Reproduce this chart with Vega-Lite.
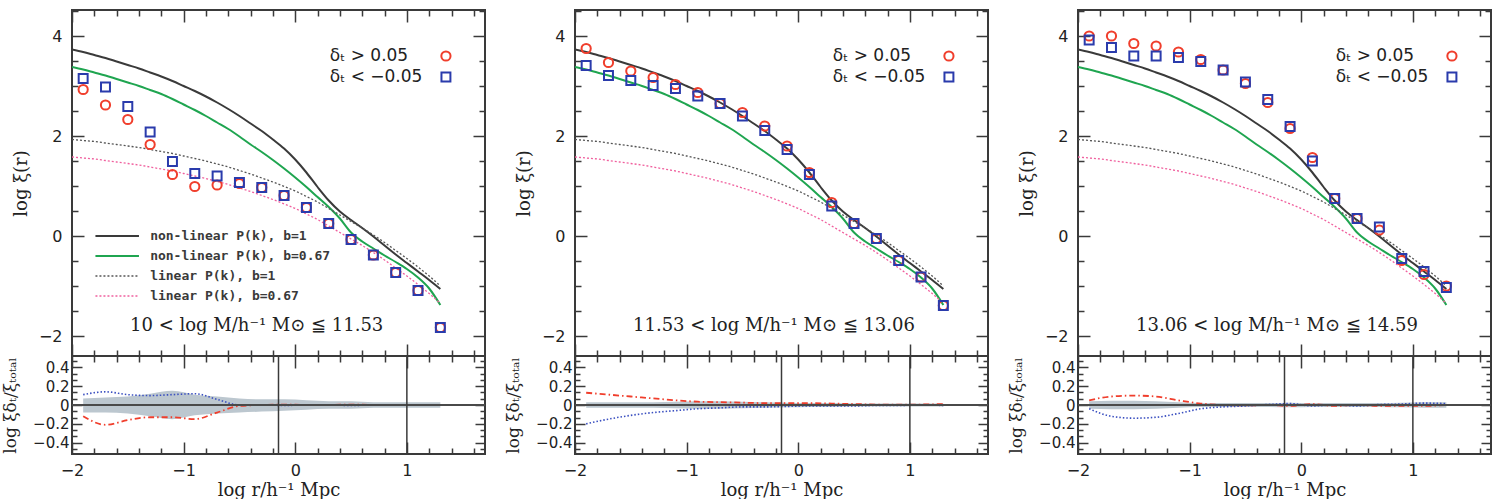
{
  "$schema": "https://vega.github.io/schema/vega-lite/v6.json",
  "padding": {"left": 0, "top": 8, "right": 0, "bottom": 0},
  "background": "white",
  "spacing": 16,
  "config": {
    "view": {"stroke": "#3a3a3a", "strokeWidth": 2},
    "point": {"opacity": 1},
    "axis": {"domain": false, "grid": false, "tickColor": "#3a3a3a", "tickWidth": 1.5, "labelFont": "DejaVu Sans", "labelFontSize": 16, "labelColor": "#222", "titleFont": "DejaVu Serif", "titleColor": "#222", "titleFontWeight": "normal", "labelFlush": false, "labelOverlap": false}
  },
  "datasets": {
    "one": [{}],
    "vlines": [{"x": -0.15}, {"x": 1.0}],
    "curves": [
      {"x": -2.0, "nl1": 3.73, "nl067": 3.38, "lin1": 1.93, "lin067": 1.58},
      {"x": -1.9, "nl1": 3.68, "nl067": 3.33, "lin1": 1.91, "lin067": 1.56},
      {"x": -1.8, "nl1": 3.62, "nl067": 3.27, "lin1": 1.89, "lin067": 1.54},
      {"x": -1.7, "nl1": 3.56, "nl067": 3.21, "lin1": 1.86, "lin067": 1.51},
      {"x": -1.6, "nl1": 3.49, "nl067": 3.14, "lin1": 1.83, "lin067": 1.48},
      {"x": -1.5, "nl1": 3.42, "nl067": 3.07, "lin1": 1.80, "lin067": 1.45},
      {"x": -1.4, "nl1": 3.35, "nl067": 3.00, "lin1": 1.77, "lin067": 1.42},
      {"x": -1.3, "nl1": 3.27, "nl067": 2.92, "lin1": 1.73, "lin067": 1.38},
      {"x": -1.2, "nl1": 3.19, "nl067": 2.84, "lin1": 1.69, "lin067": 1.34},
      {"x": -1.1, "nl1": 3.10, "nl067": 2.74, "lin1": 1.65, "lin067": 1.30},
      {"x": -1.0, "nl1": 3.00, "nl067": 2.63, "lin1": 1.60, "lin067": 1.25},
      {"x": -0.9, "nl1": 2.90, "nl067": 2.52, "lin1": 1.55, "lin067": 1.20},
      {"x": -0.8, "nl1": 2.79, "nl067": 2.40, "lin1": 1.50, "lin067": 1.15},
      {"x": -0.7, "nl1": 2.67, "nl067": 2.27, "lin1": 1.44, "lin067": 1.09},
      {"x": -0.6, "nl1": 2.54, "nl067": 2.14, "lin1": 1.38, "lin067": 1.03},
      {"x": -0.5, "nl1": 2.40, "nl067": 1.99, "lin1": 1.31, "lin067": 0.96},
      {"x": -0.4, "nl1": 2.25, "nl067": 1.83, "lin1": 1.24, "lin067": 0.89},
      {"x": -0.3, "nl1": 2.10, "nl067": 1.68, "lin1": 1.16, "lin067": 0.81},
      {"x": -0.2, "nl1": 1.93, "nl067": 1.52, "lin1": 1.08, "lin067": 0.73},
      {"x": -0.1, "nl1": 1.75, "nl067": 1.35, "lin1": 0.99, "lin067": 0.64},
      {"x": 0.0, "nl1": 1.53, "nl067": 1.17, "lin1": 0.90, "lin067": 0.55},
      {"x": 0.1, "nl1": 1.27, "nl067": 0.98, "lin1": 0.79, "lin067": 0.44},
      {"x": 0.2, "nl1": 0.98, "nl067": 0.78, "lin1": 0.68, "lin067": 0.33},
      {"x": 0.3, "nl1": 0.71, "nl067": 0.58, "lin1": 0.55, "lin067": 0.20},
      {"x": 0.4, "nl1": 0.49, "nl067": 0.35, "lin1": 0.42, "lin067": 0.07},
      {"x": 0.5, "nl1": 0.32, "nl067": 0.07, "lin1": 0.29, "lin067": -0.06},
      {"x": 0.6, "nl1": 0.16, "nl067": -0.11, "lin1": 0.16, "lin067": -0.19},
      {"x": 0.7, "nl1": -0.01, "nl067": -0.25, "lin1": 0.02, "lin067": -0.33},
      {"x": 0.8, "nl1": -0.19, "nl067": -0.39, "lin1": -0.13, "lin067": -0.48},
      {"x": 0.9, "nl1": -0.37, "nl067": -0.52, "lin1": -0.29, "lin067": -0.64},
      {"x": 1.0, "nl1": -0.54, "nl067": -0.66, "lin1": -0.45, "lin067": -0.80},
      {"x": 1.1, "nl1": -0.71, "nl067": -0.83, "lin1": -0.62, "lin067": -0.97},
      {"x": 1.2, "nl1": -0.88, "nl067": -1.05, "lin1": -0.80, "lin067": -1.15},
      {"x": 1.3, "nl1": -1.06, "nl067": -1.38, "lin1": -1.00, "lin067": -1.35}
    ],
    "pts1": [
      {"x": -1.9, "hi": 2.93, "lo": 3.15}, {"x": -1.7, "hi": 2.62, "lo": 2.98},
      {"x": -1.5, "hi": 2.33, "lo": 2.59}, {"x": -1.3, "hi": 1.83, "lo": 2.08},
      {"x": -1.1, "hi": 1.23, "lo": 1.49}, {"x": -0.9, "hi": 0.99, "lo": 1.25},
      {"x": -0.7, "hi": 1.02, "lo": 1.20}, {"x": -0.5, "hi": 1.05, "lo": 1.07},
      {"x": -0.3, "hi": 0.97, "lo": 0.97}, {"x": -0.1, "hi": 0.81, "lo": 0.81},
      {"x": 0.1, "hi": 0.57, "lo": 0.57}, {"x": 0.3, "hi": 0.25, "lo": 0.25},
      {"x": 0.5, "hi": -0.07, "lo": -0.07}, {"x": 0.7, "hi": -0.38, "lo": -0.38},
      {"x": 0.9, "hi": -0.73, "lo": -0.73}, {"x": 1.1, "hi": -1.09, "lo": -1.09},
      {"x": 1.3, "hi": -1.83, "lo": -1.83}
    ],
    "pts2": [
      {"x": -1.9, "hi": 3.75, "lo": 3.41}, {"x": -1.7, "hi": 3.47, "lo": 3.21},
      {"x": -1.5, "hi": 3.30, "lo": 3.11}, {"x": -1.3, "hi": 3.17, "lo": 3.01},
      {"x": -1.1, "hi": 3.03, "lo": 2.95}, {"x": -0.9, "hi": 2.87, "lo": 2.80},
      {"x": -0.7, "hi": 2.65, "lo": 2.65}, {"x": -0.5, "hi": 2.47, "lo": 2.40},
      {"x": -0.3, "hi": 2.20, "lo": 2.11}, {"x": -0.1, "hi": 1.80, "lo": 1.73},
      {"x": 0.1, "hi": 1.27, "lo": 1.23}, {"x": 0.3, "hi": 0.67, "lo": 0.60},
      {"x": 0.5, "hi": 0.25, "lo": 0.25}, {"x": 0.7, "hi": -0.05, "lo": -0.05},
      {"x": 0.9, "hi": -0.49, "lo": -0.49}, {"x": 1.1, "hi": -0.82, "lo": -0.82},
      {"x": 1.3, "hi": -1.39, "lo": -1.39}
    ],
    "pts3": [
      {"x": -1.9, "hi": 4.00, "lo": 3.92}, {"x": -1.7, "hi": 4.00, "lo": 3.77},
      {"x": -1.5, "hi": 3.85, "lo": 3.60}, {"x": -1.3, "hi": 3.80, "lo": 3.60},
      {"x": -1.1, "hi": 3.68, "lo": 3.57}, {"x": -0.9, "hi": 3.53, "lo": 3.49},
      {"x": -0.7, "hi": 3.32, "lo": 3.32}, {"x": -0.5, "hi": 3.05, "lo": 3.08},
      {"x": -0.3, "hi": 2.67, "lo": 2.73}, {"x": -0.1, "hi": 2.15, "lo": 2.19},
      {"x": 0.1, "hi": 1.57, "lo": 1.50}, {"x": 0.3, "hi": 0.75, "lo": 0.75},
      {"x": 0.5, "hi": 0.35, "lo": 0.35}, {"x": 0.7, "hi": 0.12, "lo": 0.18},
      {"x": 0.9, "hi": -0.49, "lo": -0.45}, {"x": 1.1, "hi": -0.77, "lo": -0.71},
      {"x": 1.3, "hi": -1.00, "lo": -1.03}
    ],
    "res1": [
      {"x": -1.9, "hi": -0.12, "lo": 0.11, "blo": -0.08, "bhi": 0.07},
      {"x": -1.7, "hi": -0.21, "lo": 0.14, "blo": -0.08, "bhi": 0.08},
      {"x": -1.5, "hi": -0.16, "lo": 0.11, "blo": -0.09, "bhi": 0.09},
      {"x": -1.3, "hi": -0.13, "lo": 0.10, "blo": -0.12, "bhi": 0.12},
      {"x": -1.1, "hi": -0.13, "lo": 0.11, "blo": -0.15, "bhi": 0.15},
      {"x": -0.9, "hi": -0.15, "lo": 0.12, "blo": -0.11, "bhi": 0.11},
      {"x": -0.7, "hi": -0.08, "lo": 0.06, "blo": -0.09, "bhi": 0.09},
      {"x": -0.5, "hi": -0.01, "lo": 0.0, "blo": -0.08, "bhi": 0.07},
      {"x": -0.3, "hi": 0.0, "lo": 0.0, "blo": -0.07, "bhi": 0.06},
      {"x": -0.1, "hi": 0.005, "lo": -0.005, "blo": -0.06, "bhi": 0.06},
      {"x": 0.1, "hi": 0.0, "lo": 0.0, "blo": -0.05, "bhi": 0.05},
      {"x": 0.3, "hi": 0.0, "lo": 0.0, "blo": -0.04, "bhi": 0.04},
      {"x": 0.5, "hi": 0.005, "lo": -0.005, "blo": -0.04, "bhi": 0.04},
      {"x": 0.7, "hi": 0.0, "lo": 0.0, "blo": -0.03, "bhi": 0.03},
      {"x": 0.9, "hi": 0.0, "lo": 0.0, "blo": -0.03, "bhi": 0.03},
      {"x": 1.1, "hi": 0.0, "lo": 0.0, "blo": -0.03, "bhi": 0.03},
      {"x": 1.3, "hi": 0.0, "lo": 0.0, "blo": -0.03, "bhi": 0.03}
    ],
    "res2": [
      {"x": -1.9, "hi": 0.13, "lo": -0.20, "blo": -0.03, "bhi": 0.03},
      {"x": -1.7, "hi": 0.11, "lo": -0.15, "blo": -0.03, "bhi": 0.03},
      {"x": -1.5, "hi": 0.09, "lo": -0.11, "blo": -0.03, "bhi": 0.03},
      {"x": -1.3, "hi": 0.07, "lo": -0.08, "blo": -0.03, "bhi": 0.03},
      {"x": -1.1, "hi": 0.05, "lo": -0.06, "blo": -0.035, "bhi": 0.035},
      {"x": -0.9, "hi": 0.035, "lo": -0.04, "blo": -0.04, "bhi": 0.04},
      {"x": -0.7, "hi": 0.03, "lo": -0.03, "blo": -0.04, "bhi": 0.04},
      {"x": -0.5, "hi": 0.025, "lo": -0.02, "blo": -0.035, "bhi": 0.035},
      {"x": -0.3, "hi": 0.02, "lo": -0.02, "blo": -0.03, "bhi": 0.03},
      {"x": -0.1, "hi": 0.02, "lo": -0.015, "blo": -0.025, "bhi": 0.025},
      {"x": 0.1, "hi": 0.02, "lo": -0.01, "blo": -0.02, "bhi": 0.02},
      {"x": 0.3, "hi": 0.015, "lo": -0.01, "blo": -0.02, "bhi": 0.02},
      {"x": 0.5, "hi": 0.01, "lo": -0.01, "blo": -0.015, "bhi": 0.015},
      {"x": 0.7, "hi": 0.005, "lo": -0.005, "blo": -0.015, "bhi": 0.015},
      {"x": 0.9, "hi": 0.005, "lo": -0.005, "blo": -0.015, "bhi": 0.015},
      {"x": 1.1, "hi": 0.005, "lo": 0.0, "blo": -0.015, "bhi": 0.015},
      {"x": 1.3, "hi": 0.01, "lo": -0.005, "blo": -0.015, "bhi": 0.015}
    ],
    "res3": [
      {"x": -1.9, "hi": 0.05, "lo": -0.04, "blo": -0.04, "bhi": 0.04},
      {"x": -1.7, "hi": 0.09, "lo": -0.12, "blo": -0.045, "bhi": 0.045},
      {"x": -1.5, "hi": 0.10, "lo": -0.14, "blo": -0.045, "bhi": 0.045},
      {"x": -1.3, "hi": 0.09, "lo": -0.13, "blo": -0.04, "bhi": 0.04},
      {"x": -1.1, "hi": 0.05, "lo": -0.09, "blo": -0.03, "bhi": 0.03},
      {"x": -0.9, "hi": 0.015, "lo": -0.04, "blo": -0.02, "bhi": 0.02},
      {"x": -0.7, "hi": 0.0, "lo": -0.02, "blo": -0.02, "bhi": 0.02},
      {"x": -0.5, "hi": -0.005, "lo": -0.01, "blo": -0.02, "bhi": 0.02},
      {"x": -0.3, "hi": 0.0, "lo": 0.005, "blo": -0.02, "bhi": 0.02},
      {"x": -0.1, "hi": -0.01, "lo": 0.015, "blo": -0.025, "bhi": 0.025},
      {"x": 0.1, "hi": 0.01, "lo": -0.01, "blo": -0.02, "bhi": 0.02},
      {"x": 0.3, "hi": -0.01, "lo": 0.0, "blo": -0.02, "bhi": 0.02},
      {"x": 0.5, "hi": 0.0, "lo": -0.01, "blo": -0.02, "bhi": 0.02},
      {"x": 0.7, "hi": -0.01, "lo": 0.005, "blo": -0.02, "bhi": 0.02},
      {"x": 0.9, "hi": -0.01, "lo": 0.01, "blo": -0.025, "bhi": 0.025},
      {"x": 1.1, "hi": -0.01, "lo": 0.02, "blo": -0.03, "bhi": 0.03},
      {"x": 1.3, "hi": 0.0, "lo": 0.015, "blo": -0.03, "bhi": 0.03}
    ]
  },
  "hconcat": [
    {
      "vconcat": [
        {
          "width": 413, "height": 346,
          "resolve": {"axis": {"x": "independent", "y": "independent"}},
          "layer": [
            {
              "data": {"name": "curves"},
              "transform": [{"fold": ["nl1", "nl067"], "as": ["m", "y"]}],
              "mark": {"type": "line", "strokeWidth": 2, "interpolate": "monotone", "clip": true},
              "encoding": {
                "x": {"field": "x", "type": "quantitative", "scale": {"domain": [-2, 1.7]}, "axis": {"orient": "bottom", "values": [-2, -1, 0, 1], "labels": false, "tickSize": -12, "title": null}},
                "y": {"field": "y", "type": "quantitative", "scale": {"domain": [-2.4, 4.52]}, "axis": {"orient": "left", "values": [-2, 0, 2, 4], "tickSize": -12, "labelPadding": 22, "format": "~g", "title": "log ξ(r)", "titleX": -42, "titleFontSize": 18}},
                "color": {"field": "m", "type": "nominal", "scale": {"domain": ["nl1", "nl067", "lin1", "lin067"], "range": ["#3a3a3a", "#1fa550", "#555555", "#f0609e"]}, "legend": null}
              }
            },
            {
              "data": {"name": "curves"},
              "transform": [{"fold": ["lin1", "lin067"], "as": ["m", "y"]}],
              "mark": {"type": "line", "strokeWidth": 1.3, "strokeDash": [2, 2], "interpolate": "monotone", "clip": true},
              "encoding": {
                "x": {"field": "x", "type": "quantitative", "scale": {"domain": [-2, 1.7]}, "axis": {"orient": "top", "values": [-2, -1, 0, 1], "labels": false, "tickSize": -12, "title": null}},
                "y": {"field": "y", "type": "quantitative", "scale": {"domain": [-2.4, 4.52]}, "axis": {"orient": "right", "values": [-2, 0, 2, 4], "labels": false, "tickSize": -12, "title": null}},
                "color": {"field": "m", "type": "nominal", "scale": {"domain": ["nl1", "nl067", "lin1", "lin067"], "range": ["#3a3a3a", "#1fa550", "#555555", "#f0609e"]}, "legend": null}
              }
            },
            {
              "data": {"name": "pts1"},
              "mark": {"type": "point", "shape": "circle", "filled": false, "size": 85, "strokeWidth": 2, "color": "#f03e2c", "clip": true},
              "encoding": {
                "x": {"field": "x", "type": "quantitative", "scale": {"domain": [-2, 1.7]}, "axis": {"orient": "bottom", "values": [-1.8, -1.6, -1.4, -1.2, -0.8, -0.6, -0.4, -0.2, 0.2, 0.4, 0.6, 0.8, 1.2, 1.4, 1.6], "labels": false, "tickSize": -6, "title": null}},
                "y": {"field": "hi", "type": "quantitative", "scale": {"domain": [-2.4, 4.52]}, "axis": {"orient": "left", "values": [-1.5, -1, -0.5, 0.5, 1, 1.5, 2.5, 3, 3.5, 4.5], "labels": false, "tickSize": -6, "title": null}}
              }
            },
            {
              "data": {"name": "pts1"},
              "mark": {"type": "point", "shape": "square", "filled": false, "size": 80, "strokeWidth": 2, "color": "#2a3bac", "clip": true},
              "encoding": {
                "x": {"field": "x", "type": "quantitative", "scale": {"domain": [-2, 1.7]}, "axis": {"orient": "top", "values": [-1.8, -1.6, -1.4, -1.2, -0.8, -0.6, -0.4, -0.2, 0.2, 0.4, 0.6, 0.8, 1.2, 1.4, 1.6], "labels": false, "tickSize": -6, "title": null}},
                "y": {"field": "lo", "type": "quantitative", "scale": {"domain": [-2.4, 4.52]}, "axis": {"orient": "right", "values": [-1.5, -1, -0.5, 0.5, 1, 1.5, 2.5, 3, 3.5, 4.5], "labels": false, "tickSize": -6, "title": null}}
              }
            },
            {
              "data": {"name": "one"},
              "mark": {"type": "text", "align": "left", "baseline": "middle", "font": "DejaVu Sans", "fontSize": 17, "color": "#222", "text": "δₜ  >  0.05"},
              "encoding": {"x": {"datum": 0.31, "type": "quantitative", "scale": {"domain": [-2, 1.7]}, "axis": null}, "y": {"datum": 3.6, "type": "quantitative", "scale": {"domain": [-2.4, 4.52]}, "axis": null}}
            },
            {
              "data": {"name": "one"},
              "mark": {"type": "text", "align": "left", "baseline": "middle", "font": "DejaVu Sans", "fontSize": 17, "color": "#222", "text": "δₜ  <  −0.05"},
              "encoding": {"x": {"datum": 0.31, "type": "quantitative", "scale": {"domain": [-2, 1.7]}, "axis": null}, "y": {"datum": 3.18, "type": "quantitative", "scale": {"domain": [-2.4, 4.52]}, "axis": null}}
            },
            {
              "data": {"name": "one"},
              "mark": {"type": "point", "shape": "circle", "filled": false, "size": 85, "strokeWidth": 2, "color": "#f03e2c"},
              "encoding": {"x": {"datum": 1.35, "type": "quantitative", "scale": {"domain": [-2, 1.7]}, "axis": null}, "y": {"datum": 3.6, "type": "quantitative", "scale": {"domain": [-2.4, 4.52]}, "axis": null}}
            },
            {
              "data": {"name": "one"},
              "mark": {"type": "point", "shape": "square", "filled": false, "size": 80, "strokeWidth": 2, "color": "#2a3bac"},
              "encoding": {"x": {"datum": 1.35, "type": "quantitative", "scale": {"domain": [-2, 1.7]}, "axis": null}, "y": {"datum": 3.18, "type": "quantitative", "scale": {"domain": [-2.4, 4.52]}, "axis": null}}
            },
            {
              "data": {"name": "one"},
              "mark": {"type": "text", "align": "left", "baseline": "middle", "font": "DejaVu Serif", "fontSize": 18, "color": "#222", "text": "10 < log M/h⁻¹ M⊙ ≦ 11.53"},
              "encoding": {"x": {"datum": -1.48, "type": "quantitative", "scale": {"domain": [-2, 1.7]}, "axis": null}, "y": {"datum": -1.8, "type": "quantitative", "scale": {"domain": [-2.4, 4.52]}, "axis": null}}
            },
            {
              "data": {"name": "one"},
              "mark": {"type": "rule", "strokeWidth": 2, "color": "#3a3a3a"},
              "encoding": {"x": {"datum": -1.79, "type": "quantitative", "scale": {"domain": [-2, 1.7]}, "axis": null}, "x2": {"datum": -1.4}, "y": {"datum": 0, "type": "quantitative", "scale": {"domain": [-2.4, 4.52]}, "axis": null}}
            },
            {
              "data": {"name": "one"},
              "mark": {"type": "rule", "strokeWidth": 2, "color": "#1fa550"},
              "encoding": {"x": {"datum": -1.79, "type": "quantitative", "scale": {"domain": [-2, 1.7]}, "axis": null}, "x2": {"datum": -1.4}, "y": {"datum": -0.4, "type": "quantitative", "scale": {"domain": [-2.4, 4.52]}, "axis": null}}
            },
            {
              "data": {"name": "one"},
              "mark": {"type": "rule", "strokeWidth": 1.3, "strokeDash": [2, 2], "color": "#555555"},
              "encoding": {"x": {"datum": -1.79, "type": "quantitative", "scale": {"domain": [-2, 1.7]}, "axis": null}, "x2": {"datum": -1.4}, "y": {"datum": -0.8, "type": "quantitative", "scale": {"domain": [-2.4, 4.52]}, "axis": null}}
            },
            {
              "data": {"name": "one"},
              "mark": {"type": "rule", "strokeWidth": 1.3, "strokeDash": [2, 2], "color": "#f0609e"},
              "encoding": {"x": {"datum": -1.79, "type": "quantitative", "scale": {"domain": [-2, 1.7]}, "axis": null}, "x2": {"datum": -1.4}, "y": {"datum": -1.2, "type": "quantitative", "scale": {"domain": [-2.4, 4.52]}, "axis": null}}
            },
            {
              "data": {"name": "one"},
              "mark": {"type": "text", "align": "left", "baseline": "middle", "font": "DejaVu Sans Mono", "fontSize": 13, "fontWeight": "bold", "color": "#3a3a3a", "text": "non-linear P(k), b=1"},
              "encoding": {"x": {"datum": -1.3, "type": "quantitative", "scale": {"domain": [-2, 1.7]}, "axis": null}, "y": {"datum": 0, "type": "quantitative", "scale": {"domain": [-2.4, 4.52]}, "axis": null}}
            },
            {
              "data": {"name": "one"},
              "mark": {"type": "text", "align": "left", "baseline": "middle", "font": "DejaVu Sans Mono", "fontSize": 13, "fontWeight": "bold", "color": "#3a3a3a", "text": "non-linear P(k), b=0.67"},
              "encoding": {"x": {"datum": -1.3, "type": "quantitative", "scale": {"domain": [-2, 1.7]}, "axis": null}, "y": {"datum": -0.4, "type": "quantitative", "scale": {"domain": [-2.4, 4.52]}, "axis": null}}
            },
            {
              "data": {"name": "one"},
              "mark": {"type": "text", "align": "left", "baseline": "middle", "font": "DejaVu Sans Mono", "fontSize": 13, "fontWeight": "bold", "color": "#3a3a3a", "text": "linear P(k), b=1"},
              "encoding": {"x": {"datum": -1.3, "type": "quantitative", "scale": {"domain": [-2, 1.7]}, "axis": null}, "y": {"datum": -0.8, "type": "quantitative", "scale": {"domain": [-2.4, 4.52]}, "axis": null}}
            },
            {
              "data": {"name": "one"},
              "mark": {"type": "text", "align": "left", "baseline": "middle", "font": "DejaVu Sans Mono", "fontSize": 13, "fontWeight": "bold", "color": "#3a3a3a", "text": "linear P(k), b=0.67"},
              "encoding": {"x": {"datum": -1.3, "type": "quantitative", "scale": {"domain": [-2, 1.7]}, "axis": null}, "y": {"datum": -1.2, "type": "quantitative", "scale": {"domain": [-2.4, 4.52]}, "axis": null}}
            }
          ]
        },
        {
          "width": 413, "height": 98,
          "resolve": {"axis": {"x": "independent", "y": "independent"}},
          "layer": [
            {
              "data": {"name": "res1"},
              "mark": {"type": "area", "color": "#bcc7cf", "interpolate": "monotone"},
              "encoding": {
                "x": {"field": "x", "type": "quantitative", "scale": {"domain": [-2, 1.7]}, "axis": {"orient": "bottom", "values": [-2, -1, 0, 1], "tickSize": -12, "labelPadding": 20, "format": "~g", "title": "log r/h⁻¹ Mpc", "titleY": 27, "titleFontSize": 18}},
                "y": {"field": "blo", "type": "quantitative", "scale": {"domain": [-0.52, 0.52]}, "axis": {"orient": "left", "values": [-0.4, -0.2, 0, 0.2, 0.4], "tickSize": -10, "labelPadding": 13, "format": "~g", "labelFontSize": 15, "title": "log ξδₜ/ξₜₒₜₐₗ", "titleX": -53, "titleFontSize": 17}},
                "y2": {"field": "bhi"}
              }
            },
            {
              "data": {"name": "res1"},
              "mark": {"type": "line", "color": "#f03e2c", "strokeWidth": 1.8, "strokeDash": [6, 3, 1.5, 3], "interpolate": "monotone"},
              "encoding": {
                "x": {"field": "x", "type": "quantitative", "scale": {"domain": [-2, 1.7]}, "axis": {"orient": "top", "values": [-2, -1, 0, 1], "labels": false, "tickSize": -12, "title": null}},
                "y": {"field": "hi", "type": "quantitative", "scale": {"domain": [-0.52, 0.52]}, "axis": {"orient": "right", "values": [-0.4, -0.2, 0, 0.2, 0.4], "labels": false, "tickSize": -10, "title": null}}
              }
            },
            {
              "data": {"name": "res1"},
              "mark": {"type": "line", "color": "#3a4fc0", "strokeWidth": 1.6, "strokeDash": [1.5, 2], "interpolate": "monotone"},
              "encoding": {
                "x": {"field": "x", "type": "quantitative", "scale": {"domain": [-2, 1.7]}, "axis": {"orient": "bottom", "values": [-1.8, -1.6, -1.4, -1.2, -0.8, -0.6, -0.4, -0.2, 0.2, 0.4, 0.6, 0.8, 1.2, 1.4, 1.6], "labels": false, "tickSize": -6, "title": null}},
                "y": {"field": "lo", "type": "quantitative", "scale": {"domain": [-0.52, 0.52]}, "axis": {"orient": "left", "values": [-0.4667, -0.3333, -0.2667, -0.1333, -0.0667, 0.0667, 0.1333, 0.2667, 0.3333, 0.4667], "labels": false, "tickSize": -5, "title": null}}
              }
            },
            {
              "data": {"name": "one"},
              "mark": {"type": "rule", "color": "#4a4a4a", "strokeWidth": 2},
              "encoding": {
                "x": {"datum": -2, "type": "quantitative", "scale": {"domain": [-2, 1.7]}, "axis": {"orient": "top", "values": [-1.8, -1.6, -1.4, -1.2, -0.8, -0.6, -0.4, -0.2, 0.2, 0.4, 0.6, 0.8, 1.2, 1.4, 1.6], "labels": false, "tickSize": -6, "title": null}},
                "x2": {"datum": 1.7},
                "y": {"datum": 0, "type": "quantitative", "scale": {"domain": [-0.52, 0.52]}, "axis": {"orient": "right", "values": [-0.4667, -0.3333, -0.2667, -0.1333, -0.0667, 0.0667, 0.1333, 0.2667, 0.3333, 0.4667], "labels": false, "tickSize": -5, "title": null}}
              }
            },
            {
              "data": {"name": "vlines"},
              "mark": {"type": "rule", "color": "#3a3a3a", "strokeWidth": 1.5},
              "encoding": {"x": {"field": "x", "type": "quantitative", "scale": {"domain": [-2, 1.7]}, "axis": null}}
            }
          ]
        }
      ],
      "spacing": 0,
      "bounds": "flush"
    },
    {
      "vconcat": [
        {
          "width": 413, "height": 346,
          "resolve": {"axis": {"x": "independent", "y": "independent"}},
          "layer": [
            {
              "data": {"name": "curves"},
              "transform": [{"fold": ["nl1", "nl067"], "as": ["m", "y"]}],
              "mark": {"type": "line", "strokeWidth": 2, "interpolate": "monotone", "clip": true},
              "encoding": {
                "x": {"field": "x", "type": "quantitative", "scale": {"domain": [-2, 1.7]}, "axis": {"orient": "bottom", "values": [-2, -1, 0, 1], "labels": false, "tickSize": -12, "title": null}},
                "y": {"field": "y", "type": "quantitative", "scale": {"domain": [-2.4, 4.52]}, "axis": {"orient": "left", "values": [-2, 0, 2, 4], "tickSize": -12, "labelPadding": 22, "format": "~g", "title": "log ξ(r)", "titleX": -42, "titleFontSize": 18}},
                "color": {"field": "m", "type": "nominal", "scale": {"domain": ["nl1", "nl067", "lin1", "lin067"], "range": ["#3a3a3a", "#1fa550", "#555555", "#f0609e"]}, "legend": null}
              }
            },
            {
              "data": {"name": "curves"},
              "transform": [{"fold": ["lin1", "lin067"], "as": ["m", "y"]}],
              "mark": {"type": "line", "strokeWidth": 1.3, "strokeDash": [2, 2], "interpolate": "monotone", "clip": true},
              "encoding": {
                "x": {"field": "x", "type": "quantitative", "scale": {"domain": [-2, 1.7]}, "axis": {"orient": "top", "values": [-2, -1, 0, 1], "labels": false, "tickSize": -12, "title": null}},
                "y": {"field": "y", "type": "quantitative", "scale": {"domain": [-2.4, 4.52]}, "axis": {"orient": "right", "values": [-2, 0, 2, 4], "labels": false, "tickSize": -12, "title": null}},
                "color": {"field": "m", "type": "nominal", "scale": {"domain": ["nl1", "nl067", "lin1", "lin067"], "range": ["#3a3a3a", "#1fa550", "#555555", "#f0609e"]}, "legend": null}
              }
            },
            {
              "data": {"name": "pts2"},
              "mark": {"type": "point", "shape": "circle", "filled": false, "size": 85, "strokeWidth": 2, "color": "#f03e2c", "clip": true},
              "encoding": {
                "x": {"field": "x", "type": "quantitative", "scale": {"domain": [-2, 1.7]}, "axis": {"orient": "bottom", "values": [-1.8, -1.6, -1.4, -1.2, -0.8, -0.6, -0.4, -0.2, 0.2, 0.4, 0.6, 0.8, 1.2, 1.4, 1.6], "labels": false, "tickSize": -6, "title": null}},
                "y": {"field": "hi", "type": "quantitative", "scale": {"domain": [-2.4, 4.52]}, "axis": {"orient": "left", "values": [-1.5, -1, -0.5, 0.5, 1, 1.5, 2.5, 3, 3.5, 4.5], "labels": false, "tickSize": -6, "title": null}}
              }
            },
            {
              "data": {"name": "pts2"},
              "mark": {"type": "point", "shape": "square", "filled": false, "size": 80, "strokeWidth": 2, "color": "#2a3bac", "clip": true},
              "encoding": {
                "x": {"field": "x", "type": "quantitative", "scale": {"domain": [-2, 1.7]}, "axis": {"orient": "top", "values": [-1.8, -1.6, -1.4, -1.2, -0.8, -0.6, -0.4, -0.2, 0.2, 0.4, 0.6, 0.8, 1.2, 1.4, 1.6], "labels": false, "tickSize": -6, "title": null}},
                "y": {"field": "lo", "type": "quantitative", "scale": {"domain": [-2.4, 4.52]}, "axis": {"orient": "right", "values": [-1.5, -1, -0.5, 0.5, 1, 1.5, 2.5, 3, 3.5, 4.5], "labels": false, "tickSize": -6, "title": null}}
              }
            },
            {
              "data": {"name": "one"},
              "mark": {"type": "text", "align": "left", "baseline": "middle", "font": "DejaVu Sans", "fontSize": 17, "color": "#222", "text": "δₜ  >  0.05"},
              "encoding": {"x": {"datum": 0.31, "type": "quantitative", "scale": {"domain": [-2, 1.7]}, "axis": null}, "y": {"datum": 3.6, "type": "quantitative", "scale": {"domain": [-2.4, 4.52]}, "axis": null}}
            },
            {
              "data": {"name": "one"},
              "mark": {"type": "text", "align": "left", "baseline": "middle", "font": "DejaVu Sans", "fontSize": 17, "color": "#222", "text": "δₜ  <  −0.05"},
              "encoding": {"x": {"datum": 0.31, "type": "quantitative", "scale": {"domain": [-2, 1.7]}, "axis": null}, "y": {"datum": 3.18, "type": "quantitative", "scale": {"domain": [-2.4, 4.52]}, "axis": null}}
            },
            {
              "data": {"name": "one"},
              "mark": {"type": "point", "shape": "circle", "filled": false, "size": 85, "strokeWidth": 2, "color": "#f03e2c"},
              "encoding": {"x": {"datum": 1.35, "type": "quantitative", "scale": {"domain": [-2, 1.7]}, "axis": null}, "y": {"datum": 3.6, "type": "quantitative", "scale": {"domain": [-2.4, 4.52]}, "axis": null}}
            },
            {
              "data": {"name": "one"},
              "mark": {"type": "point", "shape": "square", "filled": false, "size": 80, "strokeWidth": 2, "color": "#2a3bac"},
              "encoding": {"x": {"datum": 1.35, "type": "quantitative", "scale": {"domain": [-2, 1.7]}, "axis": null}, "y": {"datum": 3.18, "type": "quantitative", "scale": {"domain": [-2.4, 4.52]}, "axis": null}}
            },
            {
              "data": {"name": "one"},
              "mark": {"type": "text", "align": "left", "baseline": "middle", "font": "DejaVu Serif", "fontSize": 18, "color": "#222", "text": "11.53 < log M/h⁻¹ M⊙ ≦ 13.06"},
              "encoding": {"x": {"datum": -1.48, "type": "quantitative", "scale": {"domain": [-2, 1.7]}, "axis": null}, "y": {"datum": -1.8, "type": "quantitative", "scale": {"domain": [-2.4, 4.52]}, "axis": null}}
            }
          ]
        },
        {
          "width": 413, "height": 98,
          "resolve": {"axis": {"x": "independent", "y": "independent"}},
          "layer": [
            {
              "data": {"name": "res2"},
              "mark": {"type": "area", "color": "#bcc7cf", "interpolate": "monotone"},
              "encoding": {
                "x": {"field": "x", "type": "quantitative", "scale": {"domain": [-2, 1.7]}, "axis": {"orient": "bottom", "values": [-2, -1, 0, 1], "tickSize": -12, "labelPadding": 20, "format": "~g", "title": "log r/h⁻¹ Mpc", "titleY": 27, "titleFontSize": 18}},
                "y": {"field": "blo", "type": "quantitative", "scale": {"domain": [-0.52, 0.52]}, "axis": {"orient": "left", "values": [-0.4, -0.2, 0, 0.2, 0.4], "tickSize": -10, "labelPadding": 13, "format": "~g", "labelFontSize": 15, "title": "log ξδₜ/ξₜₒₜₐₗ", "titleX": -53, "titleFontSize": 17}},
                "y2": {"field": "bhi"}
              }
            },
            {
              "data": {"name": "res2"},
              "mark": {"type": "line", "color": "#f03e2c", "strokeWidth": 1.8, "strokeDash": [6, 3, 1.5, 3], "interpolate": "monotone"},
              "encoding": {
                "x": {"field": "x", "type": "quantitative", "scale": {"domain": [-2, 1.7]}, "axis": {"orient": "top", "values": [-2, -1, 0, 1], "labels": false, "tickSize": -12, "title": null}},
                "y": {"field": "hi", "type": "quantitative", "scale": {"domain": [-0.52, 0.52]}, "axis": {"orient": "right", "values": [-0.4, -0.2, 0, 0.2, 0.4], "labels": false, "tickSize": -10, "title": null}}
              }
            },
            {
              "data": {"name": "res2"},
              "mark": {"type": "line", "color": "#3a4fc0", "strokeWidth": 1.6, "strokeDash": [1.5, 2], "interpolate": "monotone"},
              "encoding": {
                "x": {"field": "x", "type": "quantitative", "scale": {"domain": [-2, 1.7]}, "axis": {"orient": "bottom", "values": [-1.8, -1.6, -1.4, -1.2, -0.8, -0.6, -0.4, -0.2, 0.2, 0.4, 0.6, 0.8, 1.2, 1.4, 1.6], "labels": false, "tickSize": -6, "title": null}},
                "y": {"field": "lo", "type": "quantitative", "scale": {"domain": [-0.52, 0.52]}, "axis": {"orient": "left", "values": [-0.4667, -0.3333, -0.2667, -0.1333, -0.0667, 0.0667, 0.1333, 0.2667, 0.3333, 0.4667], "labels": false, "tickSize": -5, "title": null}}
              }
            },
            {
              "data": {"name": "one"},
              "mark": {"type": "rule", "color": "#4a4a4a", "strokeWidth": 2},
              "encoding": {
                "x": {"datum": -2, "type": "quantitative", "scale": {"domain": [-2, 1.7]}, "axis": {"orient": "top", "values": [-1.8, -1.6, -1.4, -1.2, -0.8, -0.6, -0.4, -0.2, 0.2, 0.4, 0.6, 0.8, 1.2, 1.4, 1.6], "labels": false, "tickSize": -6, "title": null}},
                "x2": {"datum": 1.7},
                "y": {"datum": 0, "type": "quantitative", "scale": {"domain": [-0.52, 0.52]}, "axis": {"orient": "right", "values": [-0.4667, -0.3333, -0.2667, -0.1333, -0.0667, 0.0667, 0.1333, 0.2667, 0.3333, 0.4667], "labels": false, "tickSize": -5, "title": null}}
              }
            },
            {
              "data": {"name": "vlines"},
              "mark": {"type": "rule", "color": "#3a3a3a", "strokeWidth": 1.5},
              "encoding": {"x": {"field": "x", "type": "quantitative", "scale": {"domain": [-2, 1.7]}, "axis": null}}
            }
          ]
        }
      ],
      "spacing": 0,
      "bounds": "flush"
    },
    {
      "vconcat": [
        {
          "width": 413, "height": 346,
          "resolve": {"axis": {"x": "independent", "y": "independent"}},
          "layer": [
            {
              "data": {"name": "curves"},
              "transform": [{"fold": ["nl1", "nl067"], "as": ["m", "y"]}],
              "mark": {"type": "line", "strokeWidth": 2, "interpolate": "monotone", "clip": true},
              "encoding": {
                "x": {"field": "x", "type": "quantitative", "scale": {"domain": [-2, 1.7]}, "axis": {"orient": "bottom", "values": [-2, -1, 0, 1], "labels": false, "tickSize": -12, "title": null}},
                "y": {"field": "y", "type": "quantitative", "scale": {"domain": [-2.4, 4.52]}, "axis": {"orient": "left", "values": [-2, 0, 2, 4], "tickSize": -12, "labelPadding": 22, "format": "~g", "title": "log ξ(r)", "titleX": -42, "titleFontSize": 18}},
                "color": {"field": "m", "type": "nominal", "scale": {"domain": ["nl1", "nl067", "lin1", "lin067"], "range": ["#3a3a3a", "#1fa550", "#555555", "#f0609e"]}, "legend": null}
              }
            },
            {
              "data": {"name": "curves"},
              "transform": [{"fold": ["lin1", "lin067"], "as": ["m", "y"]}],
              "mark": {"type": "line", "strokeWidth": 1.3, "strokeDash": [2, 2], "interpolate": "monotone", "clip": true},
              "encoding": {
                "x": {"field": "x", "type": "quantitative", "scale": {"domain": [-2, 1.7]}, "axis": {"orient": "top", "values": [-2, -1, 0, 1], "labels": false, "tickSize": -12, "title": null}},
                "y": {"field": "y", "type": "quantitative", "scale": {"domain": [-2.4, 4.52]}, "axis": {"orient": "right", "values": [-2, 0, 2, 4], "labels": false, "tickSize": -12, "title": null}},
                "color": {"field": "m", "type": "nominal", "scale": {"domain": ["nl1", "nl067", "lin1", "lin067"], "range": ["#3a3a3a", "#1fa550", "#555555", "#f0609e"]}, "legend": null}
              }
            },
            {
              "data": {"name": "pts3"},
              "mark": {"type": "point", "shape": "circle", "filled": false, "size": 85, "strokeWidth": 2, "color": "#f03e2c", "clip": true},
              "encoding": {
                "x": {"field": "x", "type": "quantitative", "scale": {"domain": [-2, 1.7]}, "axis": {"orient": "bottom", "values": [-1.8, -1.6, -1.4, -1.2, -0.8, -0.6, -0.4, -0.2, 0.2, 0.4, 0.6, 0.8, 1.2, 1.4, 1.6], "labels": false, "tickSize": -6, "title": null}},
                "y": {"field": "hi", "type": "quantitative", "scale": {"domain": [-2.4, 4.52]}, "axis": {"orient": "left", "values": [-1.5, -1, -0.5, 0.5, 1, 1.5, 2.5, 3, 3.5, 4.5], "labels": false, "tickSize": -6, "title": null}}
              }
            },
            {
              "data": {"name": "pts3"},
              "mark": {"type": "point", "shape": "square", "filled": false, "size": 80, "strokeWidth": 2, "color": "#2a3bac", "clip": true},
              "encoding": {
                "x": {"field": "x", "type": "quantitative", "scale": {"domain": [-2, 1.7]}, "axis": {"orient": "top", "values": [-1.8, -1.6, -1.4, -1.2, -0.8, -0.6, -0.4, -0.2, 0.2, 0.4, 0.6, 0.8, 1.2, 1.4, 1.6], "labels": false, "tickSize": -6, "title": null}},
                "y": {"field": "lo", "type": "quantitative", "scale": {"domain": [-2.4, 4.52]}, "axis": {"orient": "right", "values": [-1.5, -1, -0.5, 0.5, 1, 1.5, 2.5, 3, 3.5, 4.5], "labels": false, "tickSize": -6, "title": null}}
              }
            },
            {
              "data": {"name": "one"},
              "mark": {"type": "text", "align": "left", "baseline": "middle", "font": "DejaVu Sans", "fontSize": 17, "color": "#222", "text": "δₜ  >  0.05"},
              "encoding": {"x": {"datum": 0.31, "type": "quantitative", "scale": {"domain": [-2, 1.7]}, "axis": null}, "y": {"datum": 3.6, "type": "quantitative", "scale": {"domain": [-2.4, 4.52]}, "axis": null}}
            },
            {
              "data": {"name": "one"},
              "mark": {"type": "text", "align": "left", "baseline": "middle", "font": "DejaVu Sans", "fontSize": 17, "color": "#222", "text": "δₜ  <  −0.05"},
              "encoding": {"x": {"datum": 0.31, "type": "quantitative", "scale": {"domain": [-2, 1.7]}, "axis": null}, "y": {"datum": 3.18, "type": "quantitative", "scale": {"domain": [-2.4, 4.52]}, "axis": null}}
            },
            {
              "data": {"name": "one"},
              "mark": {"type": "point", "shape": "circle", "filled": false, "size": 85, "strokeWidth": 2, "color": "#f03e2c"},
              "encoding": {"x": {"datum": 1.35, "type": "quantitative", "scale": {"domain": [-2, 1.7]}, "axis": null}, "y": {"datum": 3.6, "type": "quantitative", "scale": {"domain": [-2.4, 4.52]}, "axis": null}}
            },
            {
              "data": {"name": "one"},
              "mark": {"type": "point", "shape": "square", "filled": false, "size": 80, "strokeWidth": 2, "color": "#2a3bac"},
              "encoding": {"x": {"datum": 1.35, "type": "quantitative", "scale": {"domain": [-2, 1.7]}, "axis": null}, "y": {"datum": 3.18, "type": "quantitative", "scale": {"domain": [-2.4, 4.52]}, "axis": null}}
            },
            {
              "data": {"name": "one"},
              "mark": {"type": "text", "align": "left", "baseline": "middle", "font": "DejaVu Serif", "fontSize": 18, "color": "#222", "text": "13.06 < log M/h⁻¹ M⊙ ≦ 14.59"},
              "encoding": {"x": {"datum": -1.48, "type": "quantitative", "scale": {"domain": [-2, 1.7]}, "axis": null}, "y": {"datum": -1.8, "type": "quantitative", "scale": {"domain": [-2.4, 4.52]}, "axis": null}}
            }
          ]
        },
        {
          "width": 413, "height": 98,
          "resolve": {"axis": {"x": "independent", "y": "independent"}},
          "layer": [
            {
              "data": {"name": "res3"},
              "mark": {"type": "area", "color": "#bcc7cf", "interpolate": "monotone"},
              "encoding": {
                "x": {"field": "x", "type": "quantitative", "scale": {"domain": [-2, 1.7]}, "axis": {"orient": "bottom", "values": [-2, -1, 0, 1], "tickSize": -12, "labelPadding": 20, "format": "~g", "title": "log r/h⁻¹ Mpc", "titleY": 27, "titleFontSize": 18}},
                "y": {"field": "blo", "type": "quantitative", "scale": {"domain": [-0.52, 0.52]}, "axis": {"orient": "left", "values": [-0.4, -0.2, 0, 0.2, 0.4], "tickSize": -10, "labelPadding": 13, "format": "~g", "labelFontSize": 15, "title": "log ξδₜ/ξₜₒₜₐₗ", "titleX": -53, "titleFontSize": 17}},
                "y2": {"field": "bhi"}
              }
            },
            {
              "data": {"name": "res3"},
              "mark": {"type": "line", "color": "#f03e2c", "strokeWidth": 1.8, "strokeDash": [6, 3, 1.5, 3], "interpolate": "monotone"},
              "encoding": {
                "x": {"field": "x", "type": "quantitative", "scale": {"domain": [-2, 1.7]}, "axis": {"orient": "top", "values": [-2, -1, 0, 1], "labels": false, "tickSize": -12, "title": null}},
                "y": {"field": "hi", "type": "quantitative", "scale": {"domain": [-0.52, 0.52]}, "axis": {"orient": "right", "values": [-0.4, -0.2, 0, 0.2, 0.4], "labels": false, "tickSize": -10, "title": null}}
              }
            },
            {
              "data": {"name": "res3"},
              "mark": {"type": "line", "color": "#3a4fc0", "strokeWidth": 1.6, "strokeDash": [1.5, 2], "interpolate": "monotone"},
              "encoding": {
                "x": {"field": "x", "type": "quantitative", "scale": {"domain": [-2, 1.7]}, "axis": {"orient": "bottom", "values": [-1.8, -1.6, -1.4, -1.2, -0.8, -0.6, -0.4, -0.2, 0.2, 0.4, 0.6, 0.8, 1.2, 1.4, 1.6], "labels": false, "tickSize": -6, "title": null}},
                "y": {"field": "lo", "type": "quantitative", "scale": {"domain": [-0.52, 0.52]}, "axis": {"orient": "left", "values": [-0.4667, -0.3333, -0.2667, -0.1333, -0.0667, 0.0667, 0.1333, 0.2667, 0.3333, 0.4667], "labels": false, "tickSize": -5, "title": null}}
              }
            },
            {
              "data": {"name": "one"},
              "mark": {"type": "rule", "color": "#4a4a4a", "strokeWidth": 2},
              "encoding": {
                "x": {"datum": -2, "type": "quantitative", "scale": {"domain": [-2, 1.7]}, "axis": {"orient": "top", "values": [-1.8, -1.6, -1.4, -1.2, -0.8, -0.6, -0.4, -0.2, 0.2, 0.4, 0.6, 0.8, 1.2, 1.4, 1.6], "labels": false, "tickSize": -6, "title": null}},
                "x2": {"datum": 1.7},
                "y": {"datum": 0, "type": "quantitative", "scale": {"domain": [-0.52, 0.52]}, "axis": {"orient": "right", "values": [-0.4667, -0.3333, -0.2667, -0.1333, -0.0667, 0.0667, 0.1333, 0.2667, 0.3333, 0.4667], "labels": false, "tickSize": -5, "title": null}}
              }
            },
            {
              "data": {"name": "vlines"},
              "mark": {"type": "rule", "color": "#3a3a3a", "strokeWidth": 1.5},
              "encoding": {"x": {"field": "x", "type": "quantitative", "scale": {"domain": [-2, 1.7]}, "axis": null}}
            }
          ]
        }
      ],
      "spacing": 0,
      "bounds": "flush"
    }
  ]
}
